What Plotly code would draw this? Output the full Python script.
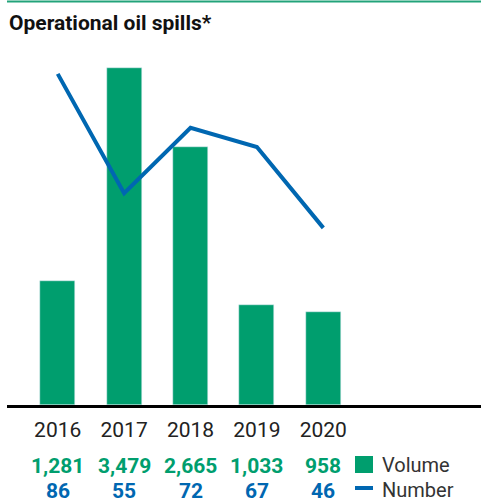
import plotly.graph_objects as go

years = ["2016", "2017", "2018", "2019", "2020"]
volume = [1281, 3479, 2665, 1033, 958]
number = [86, 55, 72, 67, 46]
volume_labels = ["1,281", "3,479", "2,665", "1,033", "958"]
number_labels = ["86", "55", "72", "67", "46"]

GREEN = "#009e6e"
BLUE = "#0067b1"
FONT = "Roboto"

W, H = 481, 498
L, R, T, B = 7, 0, 50, 93
PH = H - T - B
PW = W - L - R

def py(p):  # pixel y -> paper y
    return (H - B - p) / PH

def px(p):  # pixel x -> paper x
    return (p - L) / PW

fig = go.Figure()
fig.add_trace(go.Bar(x=years, y=volume, marker_color=GREEN, width=0.527,
                     name="Volume", showlegend=False))
fig.add_trace(go.Scatter(x=years, y=number, mode="lines", yaxis="y2",
                         line=dict(color=BLUE, width=4), name="Number",
                         showlegend=False))

ann = []
for i, (vl, nl) in enumerate(zip(volume_labels, number_labels)):
    ann.append(dict(x=i, xref="x", y=py(466), yref="paper", text="<b>%s</b>" % vl,
                    showarrow=False, font=dict(family=FONT, size=21, color=GREEN),
                    xanchor="center", yanchor="middle"))
    ann.append(dict(x=i, xref="x", y=py(491), yref="paper", text="<b>%s</b>" % nl,
                    showarrow=False, font=dict(family=FONT, size=21, color=BLUE),
                    xanchor="center", yanchor="middle"))

ann.append(dict(x=0, xref="paper", y=py(23), yref="paper",
                text="<b>Operational oil spills*</b>", showarrow=False,
                font=dict(family=FONT, size=21, color="#111111"),
                xanchor="left", yanchor="middle"))
ann.append(dict(x=px(380), xref="paper", y=py(465), yref="paper", text="Volume",
                showarrow=False, font=dict(family=FONT, size=20, color="#333333"),
                xanchor="left", yanchor="middle"))
ann.append(dict(x=px(380), xref="paper", y=py(490), yref="paper", text="Number",
                showarrow=False, font=dict(family=FONT, size=20, color="#333333"),
                xanchor="left", yanchor="middle"))

shapes = [
    dict(type="line", xref="paper", yref="paper", x0=0, x1=1, y0=py(1.5), y1=py(1.5),
         line=dict(color="#22a37a", width=2)),
    dict(type="rect", xref="paper", yref="paper", x0=px(355), x1=px(373),
         y0=py(473), y1=py(456), fillcolor=GREEN, line=dict(width=0)),
    dict(type="line", xref="paper", yref="paper", x0=px(355), x1=px(373),
         y0=py(488), y1=py(488), line=dict(color=BLUE, width=4)),
]

fig.update_layout(
    width=W, height=H,
    margin=dict(l=L, r=R, t=T, b=B),
    paper_bgcolor="white", plot_bgcolor="white",
    font=dict(family=FONT),
    xaxis=dict(type="category", categoryarray=years, range=[-0.764, 6.375],
               showline=True, linecolor="black", linewidth=2.5, showgrid=False,
               zeroline=False, ticks="", tickfont=dict(family=FONT, size=21, color="#222222"),
               ticklabelstandoff=4),
    yaxis=dict(range=[0, 3660], visible=False, showgrid=False),
    yaxis2=dict(range=[0, 92.2], overlaying="y", visible=False, showgrid=False),
    annotations=ann,
    shapes=shapes,
    bargap=0,
)

fig.write_html("out.html", config={"displayModeBar": False},
               post_script="document.body.style.margin='0';document.body.style.overflow='hidden';")
